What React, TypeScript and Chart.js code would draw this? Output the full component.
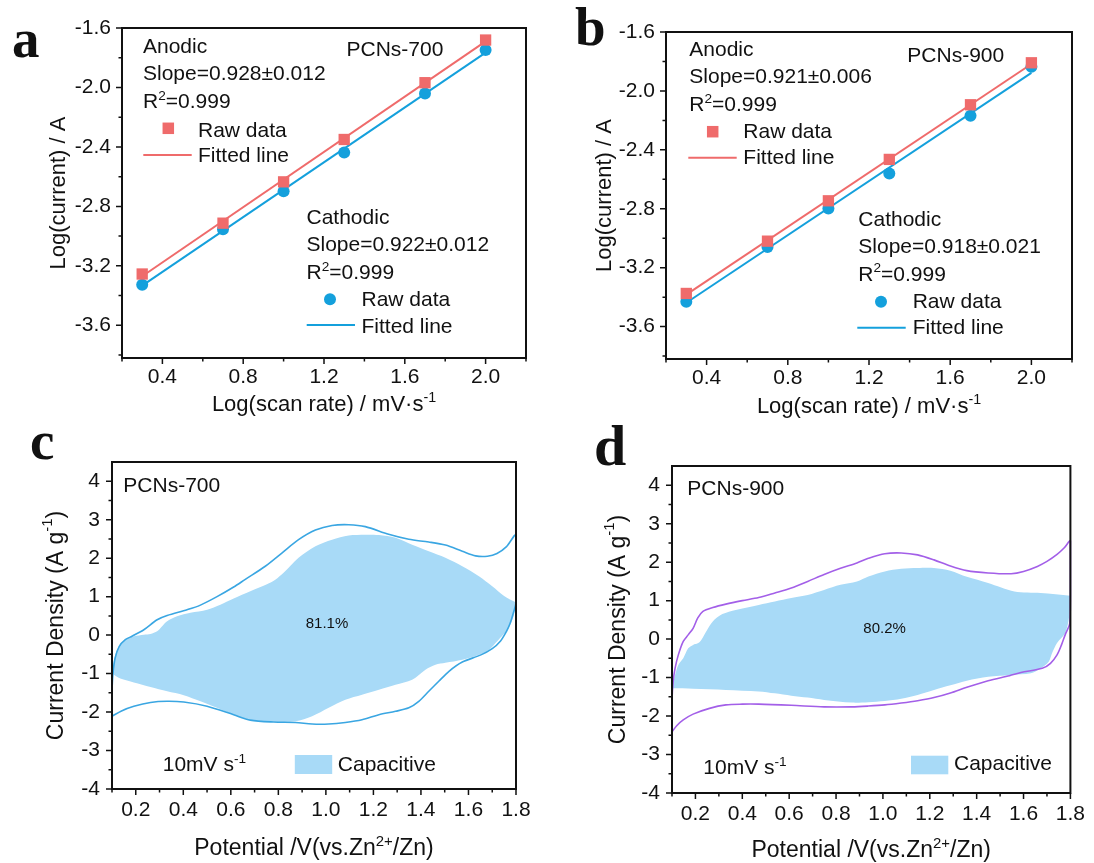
import React, { useEffect, useRef } from 'react';
import { Chart, registerables } from 'chart.js';

Chart.register(...registerables);

const FONT = "'Liberation Sans', Arial, Helvetica, sans-serif";
const SERIF = "'Liberation Serif', 'Times New Roman', serif";

// ---------- Panels a / b : log(i) vs log(v) ----------
const LOG_SCAN_RATE = [0.3, 0.7, 1.0, 1.3, 1.7, 2.0];
const FIT_X = [0.3, 2.0];

const A700_ANODIC = [-3.255, -2.913, -2.635, -2.35, -1.968, -1.681];
const A700_CATHODIC = [-3.328, -2.954, -2.698, -2.437, -2.04, -1.748];
const A700_ANODIC_FIT = [-3.27, -1.69];
const A700_CATHODIC_FIT = [-3.333, -1.766];

const B900_ANODIC = [-3.375, -3.02, -2.746, -2.465, -2.094, -1.809];
const B900_CATHODIC = [-3.431, -3.06, -2.798, -2.56, -2.168, -1.836];
const B900_ANODIC_FIT = [-3.383, -1.817];
const B900_CATHODIC_FIT = [-3.438, -1.877];

const X_LOG_MAJOR = [0.4, 0.8, 1.2, 1.6, 2.0];
const X_LOG_MINOR = [0.2, 0.6, 1.0, 1.4, 1.8, 2.2];
const Y_LOG_MAJOR = [-3.6, -3.2, -2.8, -2.4, -2.0, -1.6];
const Y_LOG_MINOR = [-3.8, -3.4, -3.0, -2.6, -2.2, -1.8];

// ---------- Panels c / d : CV curves ----------
const C700_FWD_V = [0.1, 0.1, 0.104, 0.113, 0.13, 0.156, 0.184, 0.234, 0.29, 0.332, 0.416, 0.472, 0.542, 0.612, 0.661, 0.745, 0.816, 0.885, 0.956, 1.026, 1.096, 1.166, 1.264, 1.349, 1.433, 1.503, 1.574, 1.63, 1.68, 1.72, 1.76, 1.8];
const C700_FWD_I = [-2.11, -1.5, -1.0, -0.6, -0.3, -0.12, -0.03, 0.14, 0.4, 0.51, 0.66, 0.78, 1.0, 1.25, 1.45, 1.79, 2.14, 2.48, 2.73, 2.85, 2.87, 2.82, 2.62, 2.49, 2.42, 2.34, 2.18, 2.06, 2.05, 2.12, 2.3, 2.6];
const C700_REV_V = [1.8, 1.79, 1.775, 1.76, 1.735, 1.7, 1.65, 1.574, 1.518, 1.475, 1.433, 1.391, 1.349, 1.293, 1.223, 1.152, 1.082, 1.012, 0.942, 0.872, 0.78, 0.682, 0.612, 0.5, 0.402, 0.332, 0.262, 0.192, 0.14, 0.1];
const C700_REV_I = [0.85, 0.6, 0.3, 0.1, -0.15, -0.35, -0.52, -0.7, -0.94, -1.2, -1.46, -1.72, -1.89, -1.98, -2.07, -2.2, -2.27, -2.31, -2.31, -2.27, -2.26, -2.21, -2.07, -1.85, -1.74, -1.72, -1.75, -1.85, -1.97, -2.11];
const C700_CAP_UP_V = [0.1, 0.114, 0.135, 0.163, 0.192, 0.234, 0.262, 0.29, 0.311, 0.332, 0.374, 0.43, 0.5, 0.556, 0.612, 0.682, 0.752, 0.787, 0.822, 0.885, 0.956, 1.026, 1.096, 1.166, 1.223, 1.293, 1.363, 1.433, 1.503, 1.574, 1.644, 1.7, 1.75, 1.8];
const C700_CAP_UP_I = [-1.0, -0.5, -0.25, -0.1, -0.03, 0.01, 0.03, 0.1, 0.23, 0.36, 0.49, 0.58, 0.66, 0.79, 0.95, 1.14, 1.32, 1.44, 1.62, 2.01, 2.31, 2.48, 2.59, 2.61, 2.6, 2.53, 2.35, 2.18, 2.01, 1.79, 1.53, 1.27, 1.02, 0.85];
const C700_CAP_DN_V = [1.8, 1.79, 1.77, 1.745, 1.721, 1.686, 1.644, 1.574, 1.503, 1.461, 1.419, 1.363, 1.293, 1.223, 1.152, 1.082, 1.012, 0.942, 0.872, 0.78, 0.682, 0.612, 0.542, 0.472, 0.402, 0.332, 0.262, 0.192, 0.135, 0.1];
const C700_CAP_DN_I = [0.85, 0.5, 0.2, 0.0, -0.16, -0.38, -0.51, -0.64, -0.72, -0.77, -0.9, -1.16, -1.29, -1.42, -1.55, -1.68, -1.89, -2.11, -2.24, -2.25, -2.2, -2.07, -1.89, -1.72, -1.56, -1.46, -1.35, -1.23, -1.13, -1.0];

const D900_FWD_V = [0.1, 0.1, 0.105, 0.113, 0.127, 0.148, 0.169, 0.19, 0.21, 0.232, 0.274, 0.33, 0.4, 0.47, 0.539, 0.609, 0.679, 0.749, 0.819, 0.889, 0.938, 1.008, 1.078, 1.148, 1.218, 1.288, 1.358, 1.449, 1.547, 1.6, 1.659, 1.7, 1.743, 1.775, 1.8];
const D900_FWD_I = [-2.41, -1.6, -1.1, -0.76, -0.41, -0.06, 0.11, 0.28, 0.55, 0.72, 0.82, 0.91, 1.0, 1.08, 1.2, 1.33, 1.5, 1.68, 1.84, 1.98, 2.1, 2.22, 2.24, 2.19, 2.06, 1.9, 1.78, 1.72, 1.7, 1.76, 1.89, 2.02, 2.2, 2.38, 2.55];
const D900_REV_V = [1.8, 1.797, 1.78, 1.762, 1.743, 1.715, 1.68, 1.589, 1.54, 1.449, 1.358, 1.288, 1.218, 1.148, 1.078, 1.008, 0.938, 0.868, 0.749, 0.609, 0.47, 0.4, 0.33, 0.26, 0.19, 0.148, 0.12, 0.1];
const D900_REV_I = [1.1, 0.4, 0.15, -0.15, -0.41, -0.63, -0.76, -0.87, -0.95, -1.08, -1.25, -1.4, -1.52, -1.6, -1.66, -1.71, -1.74, -1.76, -1.76, -1.72, -1.69, -1.69, -1.71, -1.8, -1.95, -2.1, -2.25, -2.41];
const D900_CAP_UP_V = [0.1, 0.113, 0.127, 0.148, 0.169, 0.19, 0.21, 0.225, 0.246, 0.274, 0.315, 0.372, 0.47, 0.539, 0.609, 0.679, 0.749, 0.819, 0.889, 0.938, 1.008, 1.078, 1.148, 1.218, 1.288, 1.358, 1.449, 1.561, 1.673, 1.8];
const D900_CAP_UP_I = [-1.28, -0.93, -0.67, -0.5, -0.24, -0.15, -0.11, -0.02, 0.2, 0.46, 0.65, 0.76, 0.89, 0.98, 1.07, 1.15, 1.28, 1.41, 1.5, 1.63, 1.76, 1.83, 1.85, 1.85, 1.78, 1.62, 1.46, 1.24, 1.2, 1.13];
const D900_CAP_DN_V = [1.8, 1.795, 1.778, 1.743, 1.722, 1.708, 1.673, 1.631, 1.547, 1.449, 1.358, 1.288, 1.218, 1.148, 1.078, 1.008, 0.938, 0.868, 0.749, 0.679, 0.609, 0.539, 0.47, 0.33, 0.19, 0.1];
const D900_CAP_DN_I = [1.13, 0.6, 0.16, -0.1, -0.36, -0.58, -0.76, -0.89, -0.93, -0.98, -1.08, -1.2, -1.32, -1.45, -1.55, -1.61, -1.64, -1.65, -1.58, -1.52, -1.47, -1.41, -1.36, -1.32, -1.29, -1.28];

const X_CV_MAJOR = [0.2, 0.4, 0.6, 0.8, 1.0, 1.2, 1.4, 1.6, 1.8];
const X_CV_MINOR = [0.1, 0.3, 0.5, 0.7, 0.9, 1.1, 1.3, 1.5, 1.7];
const Y_CV_MAJOR = [-4, -3, -2, -1, 0, 1, 2, 3, 4];
const Y_CV_MINOR = [-3.5, -2.5, -1.5, -0.5, 0.5, 1.5, 2.5, 3.5];

// ---------- colours ----------
const RED = '#EF6B6B';
const BLUE = '#14A0DC';
const CV_BLUE = '#3AA6E2';
const PURPLE = '#A35FE8';
const FILL = '#A8DAF7';
const INK = '#111111';

const zip = (xs: number[], ys: number[]) => xs.map((x, i) => ({ x, y: ys[i] }));

function drawRich(ctx: CanvasRenderingContext2D, text: string, x: number, y: number, size: number, align: string) {
  const parts: { s: string; sup: boolean }[] = [];
  const re = /\^\{([^}]*)\}/g;
  let last = 0;
  let m: RegExpExecArray | null;
  while ((m = re.exec(text))) {
    if (m.index > last) parts.push({ s: text.slice(last, m.index), sup: false });
    parts.push({ s: m[1], sup: true });
    last = re.lastIndex;
  }
  if (last < text.length) parts.push({ s: text.slice(last), sup: false });
  const supSize = size * 0.65;
  const widths = parts.map((p) => {
    ctx.font = `${p.sup ? supSize : size}px ${FONT}`;
    return ctx.measureText(p.s).width;
  });
  const total = widths.reduce((a, b) => a + b, 0);
  let cx = align === 'center' ? x - total / 2 : align === 'right' ? x - total : x;
  ctx.textAlign = 'left';
  parts.forEach((p, i) => {
    ctx.font = `${p.sup ? supSize : size}px ${FONT}`;
    ctx.fillText(p.s, cx, p.sup ? y - size * 0.4 : y);
    cx += widths[i];
  });
}

function buildScale(axis: string, min: number, max: number, majors: number[], minors: number[], digits: number, fontSize: number, padding: number, fit: number) {
  const all = [...majors, ...minors].sort((a, b) => a - b);
  return {
    type: 'linear',
    min,
    max,
    grid: { display: false, drawTicks: false, tickLength: 0 },
    border: { display: false },
    afterBuildTicks: (s: any) => {
      s.ticks = all.map((v) => ({ value: v }));
    },
    afterFit: (s: any) => {
      if (axis === 'x') s.height = fit;
      else s.width = fit;
    },
    ticks: {
      autoSkip: false,
      maxRotation: 0,
      minRotation: 0,
      padding,
      color: INK,
      font: { family: FONT, size: fontSize },
      callback: (v: any) => (majors.some((mm) => Math.abs(mm - Number(v)) < 1e-9) ? Number(v).toFixed(digits) : ''),
    },
  };
}

function decor(p: any) {
  return {
    id: 'decor_' + p.key,
    afterDraw(chart: any) {
      const ctx: CanvasRenderingContext2D = chart.ctx;
      const a = chart.chartArea;
      const xs = chart.scales.x;
      const ys = chart.scales.y;
      ctx.save();
      ctx.strokeStyle = INK;
      ctx.lineWidth = 1.5;
      ctx.beginPath();
      xs.ticks.forEach((t: any) => {
        const px = xs.getPixelForValue(t.value);
        const len = t.label ? 6 : 3.5;
        ctx.moveTo(px, a.bottom);
        ctx.lineTo(px, a.bottom + len);
      });
      ys.ticks.forEach((t: any) => {
        const py = ys.getPixelForValue(t.value);
        const len = t.label ? 6 : 3.5;
        ctx.moveTo(a.left, py);
        ctx.lineTo(a.left - len, py);
      });
      ctx.stroke();
      ctx.lineWidth = 2;
      ctx.strokeRect(a.left, a.top, a.right - a.left, a.bottom - a.top);

      ctx.fillStyle = INK;
      ctx.textBaseline = 'alphabetic';
      drawRich(ctx, p.xTitle, (a.left + a.right) / 2, p.xTitleY, p.titleSize, 'center');
      ctx.save();
      ctx.translate(p.yTitleX, (a.top + a.bottom) / 2);
      ctx.rotate(-Math.PI / 2);
      ctx.textBaseline = 'middle';
      drawRich(ctx, p.yTitle, 0, 0, p.titleSize, 'center');
      ctx.restore();

      ctx.textBaseline = 'alphabetic';
      p.marks.forEach((mk: any) => {
        ctx.fillStyle = mk.color;
        ctx.strokeStyle = mk.color;
        if (mk.type === 'rect') {
          ctx.fillRect(mk.x - mk.s / 2, mk.y - mk.s / 2, mk.s, mk.s);
        } else if (mk.type === 'circle') {
          ctx.beginPath();
          ctx.arc(mk.x, mk.y, mk.r, 0, Math.PI * 2);
          ctx.fill();
        } else if (mk.type === 'line') {
          ctx.lineWidth = 2;
          ctx.beginPath();
          ctx.moveTo(mk.x1, mk.y);
          ctx.lineTo(mk.x2, mk.y);
          ctx.stroke();
        } else if (mk.type === 'box') {
          ctx.fillRect(mk.x1, mk.y1, mk.x2 - mk.x1, mk.y2 - mk.y1);
        }
      });
      ctx.fillStyle = INK;
      p.texts.forEach((t: any) => drawRich(ctx, t.t, t.x, t.y, t.size || 21, 'left'));
      ctx.font = `bold ${p.letter.size}px ${SERIF}`;
      ctx.textAlign = 'left';
      ctx.fillText(p.letter.t, p.letter.x, p.letter.y);
      ctx.restore();
    },
  };
}

function logDatasets(anodic: number[], cathodic: number[], aFit: number[], cFit: number[]) {
  return [
    { data: zip(LOG_SCAN_RATE, anodic), showLine: false, pointStyle: 'rect', pointRadius: 8, pointBorderWidth: 0, pointBackgroundColor: RED, borderColor: RED },
    { data: zip(LOG_SCAN_RATE, cathodic), showLine: false, pointStyle: 'circle', pointRadius: 6, pointBorderWidth: 0, pointBackgroundColor: BLUE, borderColor: BLUE },
    { data: zip(FIT_X, aFit), borderColor: RED, borderWidth: 2, pointRadius: 0, tension: 0 },
    { data: zip(FIT_X, cFit), borderColor: BLUE, borderWidth: 2, pointRadius: 0, tension: 0 },
  ];
}

function cvDatasets(fv: number[], fi: number[], rv: number[], ri: number[], uv: number[], ui: number[], dv: number[], di: number[], lineColor: string) {
  return [
    { data: [...zip(fv, fi), ...zip(rv, ri)], borderColor: lineColor, borderWidth: 1.6, pointRadius: 0, tension: 0.3, fill: false, clip: 4 },
    { data: [...zip(uv, ui), ...zip(dv, di)], borderWidth: 0, borderColor: 'rgba(0,0,0,0)', backgroundColor: FILL, pointRadius: 0, tension: 0.3, fill: 'shape', clip: 4 },
  ];
}

const PANELS: any[] = [
  {
    key: 'a', left: 0, top: 0, w: 547, h: 420,
    pad: { top: 28, right: 21 }, yW: 122, xH: 62,
    x: [0.2, 2.2, X_LOG_MAJOR, X_LOG_MINOR, 1, 21, 7],
    y: [-3.82, -1.6, Y_LOG_MAJOR, Y_LOG_MINOR, 1, 21, 11],
    datasets: logDatasets(A700_ANODIC, A700_CATHODIC, A700_ANODIC_FIT, A700_CATHODIC_FIT),
    xTitle: 'Log(scan rate) / mV·s^{-1}', xTitleY: 411, yTitle: 'Log(current) / A', yTitleX: 59, titleSize: 22,
    letter: { t: 'a', x: 12, y: 57, size: 55 },
    texts: [
      { t: 'Anodic', x: 143, y: 53 },
      { t: 'Slope=0.928±0.012', x: 143, y: 80 },
      { t: 'R^{2}=0.999', x: 143, y: 108 },
      { t: 'Raw data', x: 198, y: 136.5 },
      { t: 'Fitted line', x: 198, y: 161.5 },
      { t: 'PCNs-700', x: 346.5, y: 56 },
      { t: 'Cathodic', x: 306.5, y: 224 },
      { t: 'Slope=0.922±0.012', x: 306.5, y: 250.5 },
      { t: 'R^{2}=0.999', x: 306.5, y: 279 },
      { t: 'Raw data', x: 361.5, y: 306 },
      { t: 'Fitted line', x: 361.5, y: 332.5 },
    ],
    marks: [
      { type: 'rect', x: 168.3, y: 128.3, s: 11.5, color: RED },
      { type: 'line', x1: 143.3, x2: 191.7, y: 155, color: RED },
      { type: 'circle', x: 330, y: 299.3, r: 6, color: BLUE },
      { type: 'line', x1: 306.7, x2: 355, y: 325, color: BLUE },
    ],
  },
  {
    key: 'b', left: 547, top: 0, w: 547, h: 420,
    pad: { top: 32, right: 22 }, yW: 119, xH: 61,
    x: [0.2, 2.2, X_LOG_MAJOR, X_LOG_MINOR, 1, 21, 7],
    y: [-3.82, -1.6, Y_LOG_MAJOR, Y_LOG_MINOR, 1, 21, 11],
    datasets: logDatasets(B900_ANODIC, B900_CATHODIC, B900_ANODIC_FIT, B900_CATHODIC_FIT),
    xTitle: 'Log(scan rate) / mV·s^{-1}', xTitleY: 413, yTitle: 'Log(current) / A', yTitleX: 57.6, titleSize: 22,
    letter: { t: 'b', x: 28, y: 45, size: 55 },
    texts: [
      { t: 'Anodic', x: 142.3, y: 56 },
      { t: 'Slope=0.921±0.006', x: 142.3, y: 82.7 },
      { t: 'R^{2}=0.999', x: 142.3, y: 111 },
      { t: 'Raw data', x: 196.3, y: 138.3 },
      { t: 'Fitted line', x: 196.3, y: 164.3 },
      { t: 'PCNs-900', x: 360.3, y: 61.7 },
      { t: 'Cathodic', x: 311.3, y: 226 },
      { t: 'Slope=0.918±0.021', x: 311.3, y: 252.7 },
      { t: 'R^{2}=0.999', x: 311.3, y: 280.7 },
      { t: 'Raw data', x: 365.7, y: 308.3 },
      { t: 'Fitted line', x: 365.7, y: 334.3 },
    ],
    marks: [
      { type: 'rect', x: 165.7, y: 131.7, s: 11.5, color: RED },
      { type: 'line', x1: 141.3, x2: 189.7, y: 157.7, color: RED },
      { type: 'circle', x: 334, y: 301.7, r: 6, color: BLUE },
      { type: 'line', x1: 310.3, x2: 358.7, y: 327.7, color: BLUE },
    ],
  },
  {
    key: 'c', left: 0, top: 420, w: 547, h: 443,
    pad: { top: 42, right: 31 }, yW: 112, xH: 74,
    x: [0.1, 1.8, X_CV_MAJOR, X_CV_MINOR, 1, 21, 9],
    y: [-4, 4.5, Y_CV_MAJOR, Y_CV_MINOR, 0, 21, 12],
    datasets: cvDatasets(C700_FWD_V, C700_FWD_I, C700_REV_V, C700_REV_I, C700_CAP_UP_V, C700_CAP_UP_I, C700_CAP_DN_V, C700_CAP_DN_I, CV_BLUE),
    xTitle: 'Potential /V(vs.Zn^{2+}/Zn)', xTitleY: 435, yTitle: 'Current Density (A g^{-1})', yTitleX: 57, titleSize: 23,
    letter: { t: 'c', x: 30, y: 39, size: 55 },
    texts: [
      { t: 'PCNs-700', x: 123.3, y: 71.7 },
      { t: '10mV s^{-1}', x: 162.7, y: 351 },
      { t: 'Capacitive', x: 337.8, y: 350.7 },
      { t: '81.1%', x: 305.7, y: 208.3, size: 15 },
    ],
    marks: [{ type: 'box', x1: 294.8, y1: 335, x2: 332.2, y2: 354, color: FILL }],
  },
  {
    key: 'd', left: 547, top: 420, w: 547, h: 443,
    pad: { top: 46, right: 17 }, yW: 125, xH: 70,
    x: [0.1, 1.8, X_CV_MAJOR, X_CV_MINOR, 1, 21, 9],
    y: [-4, 4.5, Y_CV_MAJOR, Y_CV_MINOR, 0, 21, 12],
    datasets: cvDatasets(D900_FWD_V, D900_FWD_I, D900_REV_V, D900_REV_I, D900_CAP_UP_V, D900_CAP_UP_I, D900_CAP_DN_V, D900_CAP_DN_I, PURPLE),
    xTitle: 'Potential /V(vs.Zn^{2+}/Zn)', xTitleY: 436.7, yTitle: 'Current Density (A g^{-1})', yTitleX: 71.6, titleSize: 23,
    letter: { t: 'd', x: 47, y: 45, size: 58 },
    texts: [
      { t: 'PCNs-900', x: 140.3, y: 75 },
      { t: '10mV s^{-1}', x: 156.3, y: 354.3 },
      { t: 'Capacitive', x: 407, y: 350 },
      { t: '80.2%', x: 316.3, y: 213.3, size: 15 },
    ],
    marks: [{ type: 'box', x1: 364, y1: 335.7, x2: 401.3, y2: 354.3, color: FILL }],
  },
];

function makeChart(canvas: HTMLCanvasElement, p: any) {
  const [xmin, xmax, xMaj, xMin, xd, xf, xp] = p.x;
  const [ymin, ymax, yMaj, yMin, yd, yf, yp] = p.y;
  return new Chart(canvas, {
    type: 'line',
    data: { datasets: p.datasets },
    options: {
      animation: false,
      responsive: false,
      maintainAspectRatio: false,
      events: [],
      layout: { padding: { left: 0, top: p.pad.top, right: p.pad.right, bottom: 0 } },
      scales: {
        x: buildScale('x', xmin, xmax, xMaj, xMin, xd, xf, xp, p.xH),
        y: buildScale('y', ymin, ymax, yMaj, yMin, yd, yf, yp, p.yW),
      },
      plugins: { legend: { display: false }, tooltip: { enabled: false } },
    } as any,
    plugins: [decor(p)],
  } as any);
}

export default function App() {
  const refs = useRef<(HTMLCanvasElement | null)[]>([]);
  useEffect(() => {
    const charts = PANELS.map((p, i) => makeChart(refs.current[i] as HTMLCanvasElement, p));
    return () => charts.forEach((c) => c.destroy());
  }, []);
  return (
    <div style={{ position: 'absolute', left: 0, top: 0, width: 1094, height: 863, background: '#fff', overflow: 'hidden' }}>
      {PANELS.map((p, i) => (
        <canvas
          key={p.key}
          ref={(el) => {
            refs.current[i] = el;
          }}
          width={p.w}
          height={p.h}
          style={{ position: 'absolute', left: p.left, top: p.top, width: p.w, height: p.h }}
        />
      ))}
    </div>
  );
}
